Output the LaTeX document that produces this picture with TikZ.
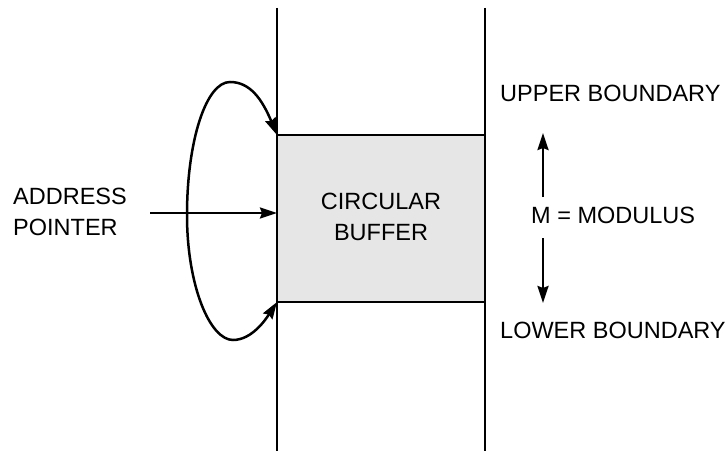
\documentclass[tikz,border=0pt]{standalone}
\usepackage{fontspec}
\setmainfont{Liberation Sans}
\usetikzlibrary{arrows.meta}
\begin{document}
\begin{tikzpicture}[x=1pt,y=1pt,
  line/.style={line width=2.5pt},
  tip/.style={-{Stealth[length=17pt,width=11pt,inset=2pt]}},
  lbl/.style={font=\fontsize{23.5}{31}\selectfont, inner sep=0pt, align=left},
  lblc/.style={font=\fontsize{23.5}{31}\selectfont, inner sep=0pt, align=center}]
\useasboundingbox (0,0) rectangle (727,451);
% buffer box
\node[draw, line width=2.5pt, fill={rgb,255:red,230;green,230;blue,230}, minimum width=208pt, minimum height=167pt, inner sep=0pt, outer sep=0pt, anchor=south west] (buf) at (277,149) {};
\node[lblc] (bt) at (381,234) {CIRCULAR\\BUFFER};
% vertical lines
\coordinate (lt) at (277,443);
\coordinate (lb) at (277,0);
\coordinate (rt) at (485,443);
\coordinate (rb) at (485,0);
\draw[line] (lt) -- (lb);
\draw[line] (rt) -- (rb);
% address pointer
\node[lbl, anchor=west] (ap) at (13,239) {ADDRESS\\POINTER};
\coordinate (aps) at (150,238);
\draw[line, tip] (aps) -- (buf.west |- aps);
% loop
\coordinate (ltop) at (230,369);
\coordinate (lleft) at (187,236);
\coordinate (lbot) at (233,111);
\draw[line, {Stealth[length=17pt,width=11pt,inset=2pt]}-{Stealth[length=17pt,width=11pt,inset=2pt]}]
  (buf.north west) .. controls (262,352) and (250,369) .. (ltop)
  .. controls (206,369) and (187,310) .. (lleft)
  .. controls (187,165) and (210,111) .. (lbot)
  .. controls (252,111) and (266,132) .. (buf.south west);
% labels right
\node[lbl, anchor=west] (ub) at (500,358) {UPPER BOUNDARY};
\node[lbl, anchor=west] (lob) at (500,121) {LOWER BOUNDARY};
\node[lbl, anchor=west] (mm) at (531,236) {M = MODULUS};
\coordinate (mu) at (543,318);
\coordinate (mus) at (543,254);
\coordinate (md) at (543,148);
\coordinate (mds) at (543,213);
\draw[line, tip] (mus) -- (mu);
\draw[line, tip] (mds) -- (md);
\end{tikzpicture}
\end{document}
